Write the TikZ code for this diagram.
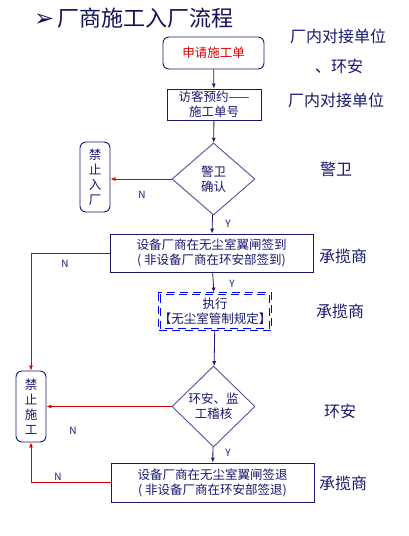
\documentclass[tikz,border=0pt]{standalone}
\usepackage{fontspec}
\setmainfont{Noto Sans CJK SC}
\newfontfamily\symfont{DejaVu Sans}
\usetikzlibrary{arrows.meta,shapes.geometric}
\definecolor{navy}{RGB}{24,24,110}
\definecolor{flowred}{RGB}{214,0,0}
\definecolor{dashblue}{RGB}{0,0,240}

\begin{document}
\begin{tikzpicture}[x=1pt,y=-1pt,
  box/.style={draw=navy,line width=0.9pt,text=navy,align=center,inner sep=0pt,font=\fontsize{12.5}{15}\selectfont},
  rbox/.style={box,rounded corners=6pt},
  dia/.style={box,diamond,draw=navy!75,aspect=1.1},
  role/.style={text=navy,font=\fontsize{16}{18}\selectfont,inner sep=0pt},
  yn/.style={text=navy,font=\fontsize{10}{12}\selectfont,inner sep=0pt},
  blueframe/.style={draw=dashblue,line width=0.8pt,dash pattern=on 8pt off 5pt},
  go/.style={draw=navy,line width=0.8pt,-{Latex[length=5pt,width=4pt]}},
  no/.style={draw=flowred,line width=0.8pt,-{Latex[length=5pt,width=4pt]}}]
\useasboundingbox (0,0) rectangle (408,536);
% title
\node[anchor=west,inner sep=0pt,text=navy!80!black,font=\fontsize{22}{24}\selectfont] (title) at (34,18) {{\symfont\fontsize{24}{24}\selectfont ➢}\hspace{3pt}厂商施工入厂流程};
% flow boxes
\node[rbox,minimum width=101pt,minimum height=32pt,text=flowred] (apply) at (213.5,53) {申请施工单};
\node[box,minimum width=94pt,minimum height=31pt] (visit) at (214,104.5) {访客预约——\\施工单号};
\node[dia,minimum width=83pt,minimum height=72pt] (guard) at (213.5,179) {警卫\\确认};
\node[rbox,minimum width=30pt,minimum height=70pt] (stopin) at (95,177) {禁\\止\\入\\厂};
\node[box,minimum width=203pt,minimum height=38pt] (signin) at (211.5,253) {设备厂商在无尘室翼闸签到\\( 非设备厂商在环安部签到)};
\node[box,draw=none,minimum width=110pt,minimum height=37pt] (rules) at (215,311.5) {执行\\【无尘室管制规定】};
\draw[blueframe] (rules.north west) rectangle (rules.south east);
\draw[blueframe] ([xshift=2pt,yshift=-2pt]rules.north west) rectangle ([xshift=-2pt,yshift=2pt]rules.south east);
\node[dia,minimum width=83pt,minimum height=81pt] (check) at (213.5,406.5) {环安、监\\工稽核};
\node[rbox,minimum width=30pt,minimum height=71pt] (stopwork) at (31,406.5) {禁\\止\\施\\工};
\node[box,minimum width=203pt,minimum height=39pt] (signout) at (212.5,482.5) {设备厂商在无尘室翼闸签退\\( 非设备厂商在环安部签退)};
% roles on the right
\node[role] (r1) at (338,36) {厂内对接单位};
\node[role] (r2) at (339,66) {、环安};
\node[role] (r3) at (336,100) {厂内对接单位};
\node[role] (r4) at (336,169) {警卫};
\node[role] (r5) at (343,256) {承揽商};
\node[role] (r6) at (340,311) {承揽商};
\node[role] (r7) at (340,411) {环安};
\node[role] (r8) at (343,483) {承揽商};
% connectors
\draw[go] (apply) -- (visit);
\draw[go] (visit) -- (guard);
\draw[go] (guard) -- (signin);
\draw[go] (signin) -- (rules);
\draw[go] (rules) -- (check);
\draw[go] (check) -- (signout);
\draw[no] (guard.west) -- (guard.west -| stopin.east);
\draw[no] (check.west) -- (check.west -| stopwork.east);
\draw[no] (signin.west) -| (stopwork.north);
\draw[no] (signout.west) -| (stopwork.south);
% Y / N labels
\node[yn] (y1) at (228,224) {Y};
\node[yn] (y2) at (232,284) {Y};
\node[yn] (y3) at (228,453) {Y};
\node[yn] (n1) at (142,195) {N};
\node[yn] (n2) at (65,264) {N};
\node[yn] (n3) at (73,431) {N};
\node[yn] (n4) at (58,477) {N};
\end{tikzpicture}
\end{document}
